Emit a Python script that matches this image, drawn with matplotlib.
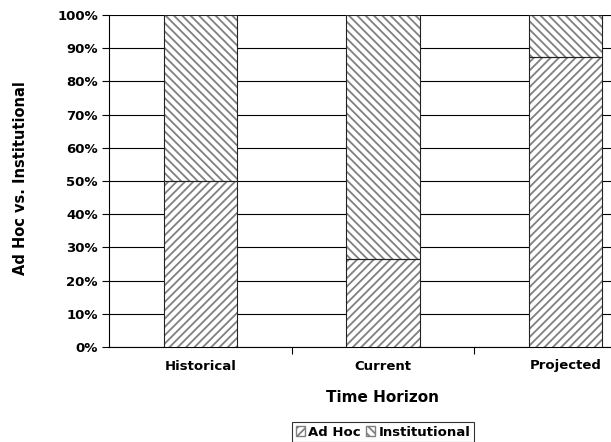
import matplotlib
matplotlib.use("Agg")
import matplotlib.pyplot as plt
from matplotlib.patches import Patch
import numpy as np

categories = ["Historical", "Current", "Projected"]
ad_hoc = [50.0, 26.5, 87.5]
institutional = [50.0, 73.5, 12.5]
series_names = ["Ad Hoc", "Institutional"]
yticks = [0, 10, 20, 30, 40, 50, 60, 70, 80, 90, 100]

plt.rcParams['font.family'] = ['DejaVu Sans']
plt.rcParams['hatch.linewidth'] = 1.3

fig = plt.figure(figsize=(6.11, 4.42), dpi=100)
ax = fig.add_axes([109/611, 95/442, 548/611, 332/442])

x = np.arange(len(categories))
w = 0.4
hc = '#808080'
# hatched fills
ax.bar(x, ad_hoc, w, color='white', edgecolor=hc, hatch='////', linewidth=0, zorder=3)
ax.bar(x, institutional, w, bottom=ad_hoc, color='white', edgecolor=hc, hatch='\\\\\\\\', linewidth=0, zorder=3)
# outlines
ax.bar(x, ad_hoc, w, fill=False, edgecolor='#222222', linewidth=0.8, zorder=4)
ax.bar(x, institutional, w, bottom=ad_hoc, fill=False, edgecolor='#222222', linewidth=0.8, zorder=4)

ax.set_xlim(-0.5, 2.5)
ax.set_ylim(0, 100)
ax.set_yticks(yticks)
ax.set_yticklabels([f"{v}%" for v in yticks], fontweight='bold', fontsize=9.5)
ax.yaxis.grid(True, color='black', linewidth=0.8)
ax.set_axisbelow(True)
ax.tick_params(axis='y', direction='out', length=5, width=0.8, pad=3)

ax.set_xticks(x)
ax.set_xticklabels(categories, fontweight='bold', fontsize=9.5)
ax.tick_params(axis='x', which='major', length=0, pad=9)
ax.set_xticks([0.5, 1.5, 2.5], minor=True)
ax.tick_params(axis='x', which='minor', direction='out', length=5, width=0.8)

for s in ['top', 'right']:
    ax.spines[s].set_visible(False)
for s in ['left', 'bottom']:
    ax.spines[s].set_color('black')
    ax.spines[s].set_linewidth(0.8)

ax.set_xlabel("Time Horizon", fontweight='bold', fontsize=11)
ax.xaxis.set_label_coords((383-109)/548, -(397-347)/332)
ax.xaxis.label.set_va('center')
fig.text(21/611, (442-178)/442, "Ad Hoc vs. Institutional", rotation=90,
         fontweight='bold', fontsize=10.5, ha='center', va='center')

handles = [Patch(facecolor='white', edgecolor=hc, hatch='////'),
           Patch(facecolor='white', edgecolor=hc, hatch='\\\\\\\\')]
leg = fig.legend(handles, series_names, loc='center', bbox_to_anchor=(383/611, (442-432)/442),
                 ncol=2, frameon=True, fancybox=False, edgecolor='black',
                 prop={'weight': 'bold', 'size': 9.5}, handlelength=0.7, handleheight=0.7,
                 handletextpad=0.25, columnspacing=0.4, borderpad=0.25, borderaxespad=0)
leg.get_frame().set_linewidth(0.8)

fig.savefig("out.png", dpi=100)
